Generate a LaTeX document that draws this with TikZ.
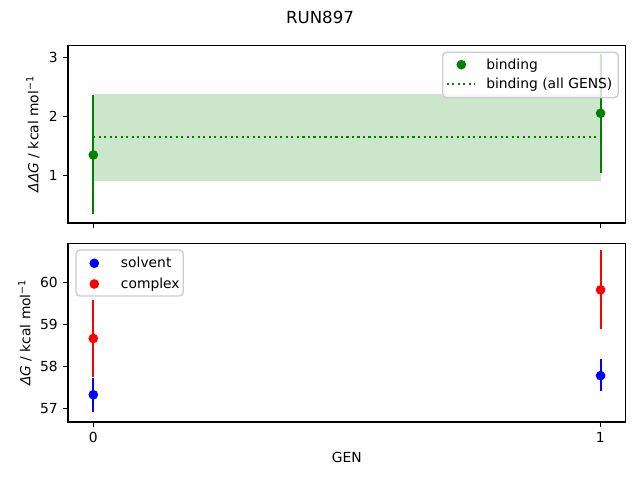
\documentclass[tikz,border=0pt]{standalone}
\usepackage{fontspec}
\setmainfont{DejaVu Sans}
\usetikzlibrary{positioning}
\definecolor{plotgreen}{HTML}{008000}
\definecolor{plotblue}{HTML}{0000FF}
\definecolor{plotred}{HTML}{FF0000}
\definecolor{legendedge}{HTML}{CCCCCC}
\tikzset{
  spine/.style={black,line width=0.8pt},
  tickmark/.style={black,line width=0.8pt},
  errbar/.style={line width=1.5pt},
  dot/.style={radius=3.5pt},
  legendbox/.style={draw=legendedge,fill=white,fill opacity=0.8,line width=1pt,rounded corners=2.8pt},
  ticklabel/.style={inner sep=0pt},
  legendtext/.style={anchor=base west,inner sep=0pt},
}

\begin{document}
\begin{tikzpicture}[x=0.01in,y=0.01in]
        \useasboundingbox (0,0) rectangle (640,480);
        \node (title) at (320,463) {\large RUN897};
        % upper panel, binding
        \begin{scope}[shift={(93.3,245.9)},x=5.07in,y=0.588in]
        \fill [plotgreen,opacity=0.2] (0,0.908) rectangle (1,2.378);
        \draw [plotgreen,line width=1.5pt,dash pattern=on 1.5pt off 2.475pt] (0,1.65)--(1,1.65);
        \draw [plotgreen,errbar] (0,0.34)--(0,2.36);
        \draw [plotgreen,errbar] (1,1.044)--(1,3.064);
        \fill [plotgreen] (0,1.345) circle [dot];
        \fill [plotgreen] (1,2.054) circle [dot];
        \end{scope}
        \draw [spine] (68,257) rectangle (625.6,434.7);
        \foreach \v in {1,2,3}
            \draw [tickmark] (68,245.9+58.8*\v)--++(-4.86,0) node [left=3.5pt,ticklabel] {\v};
        \foreach \g in {0,1}
            \draw [tickmark] (93.3+507*\g,257)--++(0,-4.86);
        \node [rotate=90] (ylabeltop) at (33,346) {\textit{ΔΔG} / kcal mol\textsuperscript{−1}};
        \draw [legendbox] (442.7,427.7) rectangle (618.3,382.3);
        \fill [plotgreen] (461.3,415.3) circle [dot];
        \draw [plotgreen,line width=1.5pt,dash pattern=on 1.5pt off 2.475pt] (446.7,395.7)--(475,395.7);
        \node [legendtext] (legbinding) at (486,410.7) {binding};
        \node [legendtext] (legall) at (486,391.1) {binding (all GENS)};
        % lower panel, solvent and complex
        \begin{scope}[shift={(93.3,-2322.3)},x=5.07in,y=0.42in]
        \draw [plotred,errbar] (0,57.71)--(0,59.55);
        \draw [plotred,errbar] (1,58.86)--(1,60.745);
        \draw [plotblue,errbar] (0,56.87)--(0,57.69);
        \draw [plotblue,errbar] (1,57.39)--(1,58.13);
        \fill [plotred] (0,58.63) circle [dot];
        \fill [plotred] (1,59.786) circle [dot];
        \fill [plotblue] (0,57.29) circle [dot];
        \fill [plotblue] (1,57.745) circle [dot];
        \end{scope}
        \draw [spine] (68,58) rectangle (625.6,236.7);
        \foreach \v in {57,58,59,60}
            \draw [tickmark] (68,42*\v-2322.3)--++(-4.86,0) node [left=3.5pt,ticklabel] {\v};
        \foreach \g in {0,1}
            \draw [tickmark] (93.3+507*\g,58)--++(0,-4.86) node [below=3.5pt,ticklabel] {\g};
        \node (xlabel) at (346.8,23) {GEN};
        \node [rotate=90] (ylabelbottom) at (25,147.4) {\textit{Δ}\textit{G} / kcal mol\textsuperscript{−1}};
        \draw [legendbox] (76,230) rectangle (183.3,184);
        \fill [plotblue] (94.3,216.7) circle [dot];
        \fill [plotred] (94.3,196) circle [dot];
        \node [legendtext] (legsolvent) at (120.7,212.1) {solvent};
        \node [legendtext] (legcomplex) at (120.7,191.4) {complex};
    \end{tikzpicture}
\end{document}
